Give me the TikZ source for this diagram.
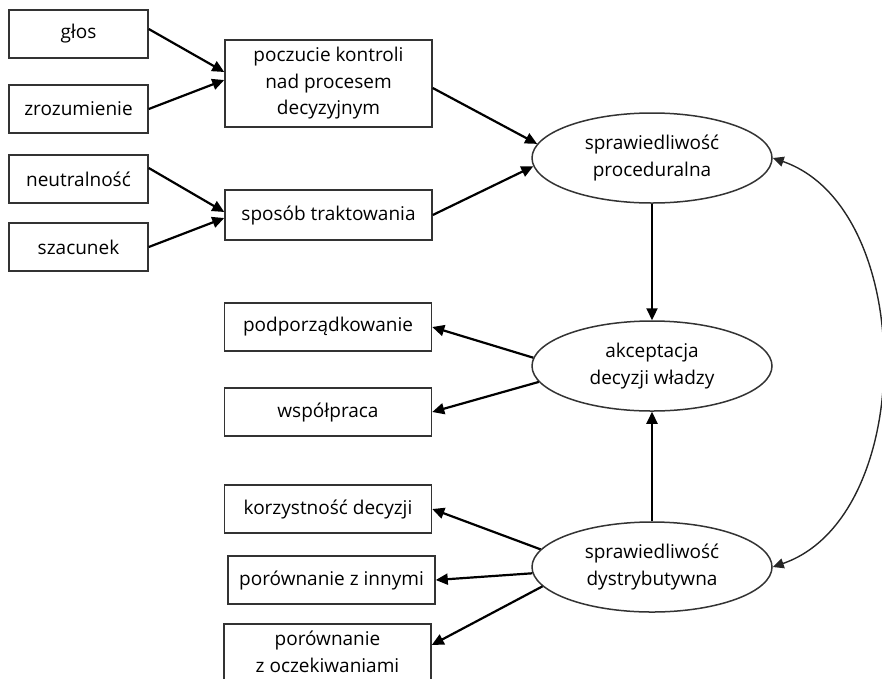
\documentclass[tikz,border=0pt]{standalone}
\usepackage{fontspec}
\setmainfont{Open Sans}
\usepackage{tikz}
\usetikzlibrary{positioning, arrows.meta, shapes.geometric}

\begin{document}
\begin{tikzpicture}[
  x=1pt, y=-1pt,
  font=\fontsize{19}{26.5}\selectfont,
  lbox/.style={draw=black!80, line width=1.5pt, minimum width=139pt, minimum height=48pt, inner sep=2pt, align=center},
  mbox/.style={lbox, minimum width=207pt},
  oval/.style={ellipse, draw=black!80, line width=1.5pt, minimum width=240pt, minimum height=90pt, inner sep=0pt, align=center},
  arr/.style={-{Triangle[length=12pt,width=11pt]}, line width=2.2pt},
  biarr/.style={{Triangle[length=11pt,width=10pt]}-{Triangle[length=11pt,width=10pt]}, line width=1.4pt, black!85},
]
  % Canvas: 1 unit = 1 px of the 882 x 678 frame, y grows downwards
  \useasboundingbox (0,0) rectangle (882,678);
  \clip (0,0) rectangle (882,678);

  % Left column: antecedents
  \foreach \n/\y/\t in {glos/34/głos, zroz/109/zrozumienie, neutr/179/neutralność, szac/247/szacunek}
    \node[lbox] (\n) at (78.5,\y) {\t};

  % Middle column: procedural components
  \node[mbox, minimum height=87pt] (pocz) at (328.5,83.5) {poczucie kontroli\\nad procesem\\decyzyjnym};
  \node[mbox, minimum height=50pt] (spos) at (328.5,215) {sposób traktowania};

  % Ellipses (justice and acceptance)
  \node[oval] (proc)  at (652,158) {sprawiedliwość\\proceduralna};
  \node[oval] (akc)   at (652,366) {akceptacja\\decyzji władzy};
  \node[oval] (dystr) at (652,567) {sprawiedliwość\\dystrybutywna};

  % Outcomes and distributive components
  \foreach \n/\x/\y/\t in {podp/328/327/podporządkowanie, wspol/328/412/współpraca,
                           korz/328/509/korzystność decyzji, porinn/331.5/580/porównanie z innymi}
    \node[mbox] (\n) at (\x,\y) {\t};
  \node[mbox, minimum height=56pt] (poroc) at (327.5,652) {porównanie\\z oczekiwaniami};

  % Arrows into the middle column
  \draw[arr] ([yshift=5pt]glos.east) -- ([yshift=11.5pt]pocz.west);
  \draw[arr] (zroz.east) -- ([yshift=3.5pt]pocz.west);
  \draw[arr] ([yshift=11pt]neutr.east) -- ([yshift=3pt]spos.west);
  \draw[arr] (szac.east) -- ([yshift=-3pt]spos.west);

  % Arrows into the ellipses
  \draw[arr] ([yshift=-4.5pt]pocz.east) -- (proc.173);
  \draw[arr] (spos.east) -- (proc.184);
  \draw[arr] (proc.south) -- (akc.north);
  \draw[arr] (dystr.north) -- (akc.south);

  % Arrows out of the ellipses
  \draw[arr] (akc.176) -- (podp.east);
  \draw[arr] (akc.188) -- (wspol.east);
  \draw[arr] (dystr.171) -- (korz.east);
  \draw[arr] (dystr.183) -- (porinn.east);
  \draw[arr] (dystr.190) -- ([yshift=7pt]poroc.east);

  % Two-way link on the right
  \draw[biarr] (proc.east) .. controls +(145,50) and +(145,-50) .. (dystr.east);
\end{tikzpicture}
\end{document}
